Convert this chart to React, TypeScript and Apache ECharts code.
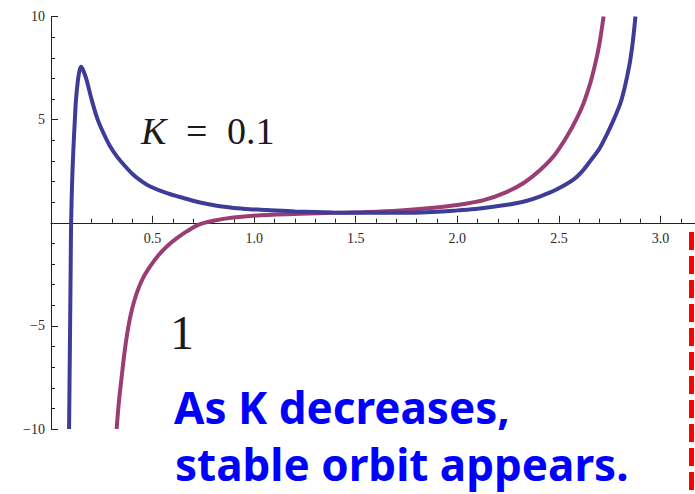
import React, { useEffect, useRef } from "react";
import * as echarts from "echarts";

// r values and curve heights for the two K settings
const blueK01: [number, number][] = [
  [0.089, -10], [0.093, -6], [0.097, -2], [0.099, 0], [0.104, 2], [0.110, 3.54],
  [0.117, 4.9], [0.123, 5.97], [0.133, 6.94], [0.141, 7.4], [0.148, 7.56],
  [0.156, 7.45], [0.166, 7.2], [0.176, 6.9], [0.2, 5.97], [0.228, 5.05],
  [0.258, 4.35], [0.29, 3.72], [0.324, 3.22], [0.365, 2.74], [0.405, 2.33],
  [0.445, 2.02], [0.488, 1.76], [0.578, 1.41], [0.652, 1.2], [0.734, 0.98],
  [0.816, 0.82], [0.9, 0.72], [0.98, 0.66], [1.062, 0.62], [1.2, 0.55],
  [1.39, 0.5], [1.55, 0.48], [1.72, 0.48], [1.916, 0.54], [2.0, 0.6],
  [2.1, 0.68], [2.245, 0.87], [2.33, 1.03], [2.409, 1.28], [2.49, 1.62],
  [2.573, 2.1], [2.62, 2.55], [2.655, 3.0], [2.7, 3.6], [2.737, 4.3],
  [2.77, 5.0], [2.803, 5.8], [2.82, 6.4], [2.836, 7.1], [2.85, 7.8],
  [2.863, 8.7], [2.877, 10],
];

const purpleK1: [number, number][] = [
  [0.323, -10], [0.335, -8.6], [0.348, -7.46], [0.363, -6.2], [0.381, -5.03],
  [0.4, -4.15], [0.422, -3.41], [0.452, -2.7], [0.488, -2.12], [0.527, -1.6],
  [0.57, -1.15], [0.618, -0.76], [0.668, -0.42], [0.73, -0.08], [0.8, 0.1],
  [0.898, 0.25], [1.03, 0.36], [1.227, 0.44], [1.4, 0.48], [1.555, 0.52],
  [1.72, 0.6], [1.883, 0.73], [2.0, 0.86], [2.13, 1.1], [2.245, 1.5],
  [2.33, 1.95], [2.409, 2.57], [2.48, 3.3], [2.54, 4.19], [2.59, 5.1],
  [2.622, 5.81], [2.655, 6.78], [2.68, 7.75], [2.7, 8.7], [2.72, 10],
];

const xTickLabels = ["0.5", "1.0", "1.5", "2.0", "2.5", "3.0"];
const yTickLabels: Record<string, string> = { "10": "10", "5": "5", "-5": "\u22125", "-10": "\u221210" };

const curveLabelTop = ["K", "=", "0.1"];
const curveLabelBottom = "1";
const noteLines = ["As K decreases,", "stable orbit appears."];

const GRID_TOP = 16.5;
const GRID_BOTTOM = 65;
const CHART_H = 494;

export default function App() {
  const ref = useRef<HTMLDivElement>(null);

  useEffect(() => {
    if (!ref.current) return;
    const chart = echarts.init(ref.current, undefined, { renderer: "svg" });
    const axisFont = {
      fontFamily: "'Liberation Serif', 'DejaVu Serif', serif",
      fontSize: 14,
      color: "#2a2a2a",
    };
    // the r axis sits on the zero line, halfway up the plot
    const plotH = CHART_H - GRID_TOP - GRID_BOTTOM;
    const serif = "'Liberation Serif', serif";
    chart.setOption({
      animation: false,
      backgroundColor: "#ffffff",
      grid: { left: 51, right: 0, top: GRID_TOP, bottom: GRID_BOTTOM, containLabel: false },
      xAxis: {
        type: "value",
        min: 0,
        max: 3.17,
        interval: 0.5,
        offset: -plotH / 2,
        axisLine: { onZero: false, lineStyle: { color: "#222", width: 1 } },
        axisTick: {
          show: true,
          inside: true,
          length: 7,
          lineStyle: { color: "#222" },
          interval: (_i: number, v: any) => Number(v) <= 3.05,
        },
        minorTick: { show: true, splitNumber: 5, length: 4, lineStyle: { color: "#222" } },
        splitLine: { show: false },
        axisLabel: {
          ...axisFont,
          margin: 9,
          showMaxLabel: false,
          formatter: (v: number) => {
            const s = v.toFixed(1);
            return xTickLabels.includes(s) ? s : "";
          },
        },
      },
      yAxis: {
        type: "value",
        min: -10,
        max: 10,
        interval: 5,
        axisLine: { show: true, onZero: false, lineStyle: { color: "#222", width: 1 } },
        axisTick: { show: true, inside: true, length: 7, lineStyle: { color: "#222" } },
        minorTick: { show: true, splitNumber: 5, length: 4, lineStyle: { color: "#222" } },
        splitLine: { show: false },
        axisLabel: {
          ...axisFont,
          margin: 6,
          formatter: (v: number) => yTickLabels[String(v)] ?? "",
        },
      },
      series: [
        {
          name: "K = 0.1",
          type: "line",
          data: blueK01,
          showSymbol: false,
          smooth: 0.3,
          lineStyle: { color: "#3d3d99", width: 4 },
          z: 3,
        },
        {
          name: "K = 1",
          type: "line",
          data: purpleK1,
          showSymbol: false,
          smooth: 0.3,
          lineStyle: { color: "#9a3d72", width: 4 },
          z: 2,
        },
      ],
      graphic: [
        {
          type: "text",
          left: 141,
          top: 112,
          style: {
            text: curveLabelTop[0],
            fontFamily: serif,
            fontStyle: "italic",
            fontSize: 38,
            fill: "#1a1a1a",
          },
        },
        {
          type: "text",
          left: 186,
          top: 112,
          style: { text: curveLabelTop[1], fontFamily: serif, fontSize: 38, fill: "#1a1a1a" },
        },
        {
          type: "text",
          left: 227,
          top: 112,
          style: { text: curveLabelTop[2], fontFamily: serif, fontSize: 38, fill: "#1a1a1a" },
        },
        {
          type: "text",
          left: 170,
          top: 308,
          style: {
            text: curveLabelBottom,
            fontFamily: serif,
            fontSize: 48,
            fill: "#1a1a1a",
          },
        },
        {
          type: "text",
          left: 174,
          top: 385,
          style: {
            text: noteLines[0],
            fontFamily: "'Noto Sans', sans-serif",
            fontWeight: "bold",
            fontSize: 44,
            fill: "#0000ff",
          },
        },
        {
          type: "text",
          left: 175,
          top: 442,
          style: {
            text: noteLines[1],
            fontFamily: "'Noto Sans', sans-serif",
            fontWeight: "bold",
            fontSize: 44,
            fill: "#0000ff",
          },
        },
        {
          type: "line",
          shape: { x1: 691.5, y1: 232, x2: 691.5, y2: 494 },
          style: { stroke: "#ff0000", lineWidth: 5, lineDash: [18, 6] },
        },
      ],
    });
    return () => chart.dispose();
  }, []);

  return (
    <div
      ref={ref}
      style={{ position: "absolute", left: 0, top: 0, width: 695, height: 494 }}
    />
  );
}
